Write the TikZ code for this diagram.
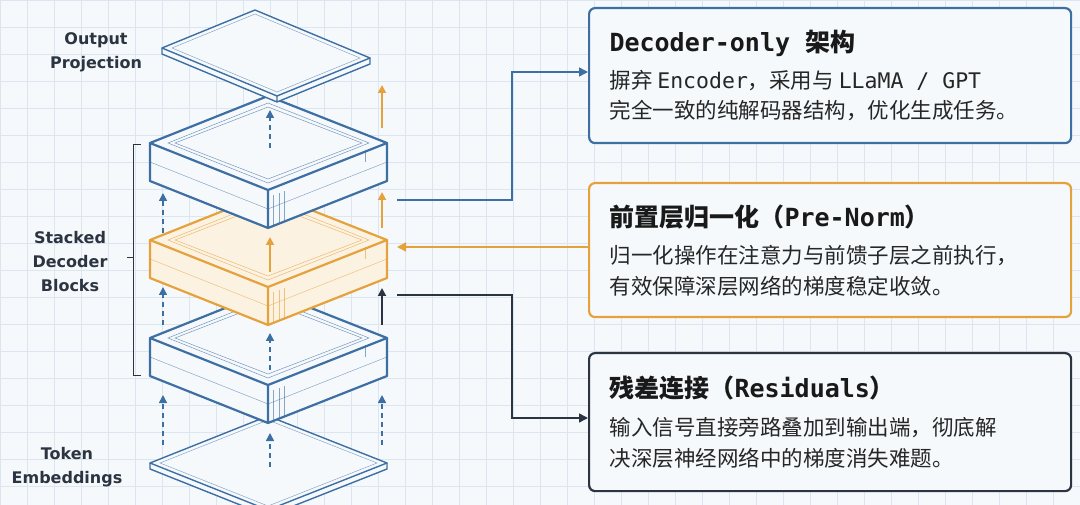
\documentclass[tikz,border=0pt]{standalone}
\usepackage{fontspec}
\setmainfont{DejaVu Sans}
\newfontfamily\cjk{Noto Sans CJK SC}
\newfontfamily\mono{DejaVu Sans Mono}
\usetikzlibrary{arrows.meta}
\definecolor{bg}{HTML}{F6F9FC}
\definecolor{gridc}{HTML}{DCE6F0}
\definecolor{bl}{HTML}{3D6FA3}
\definecolor{og}{HTML}{E5A23C}
\definecolor{ogf}{HTML}{FCF2E2}
\definecolor{dk}{HTML}{2B3440}
\tikzset{
 dash arrow/.style={bl,line width=1.6pt,dash pattern=on 5pt off 4pt,-{Triangle[length=8pt,width=8pt]}},
 solid arrow/.style={line width=1.8pt,-{Triangle[length=8pt,width=8pt]}},
 conn/.style={line width=1.6pt,-{Triangle[length=9pt,width=9pt]}},
 infobox/.style={rounded corners=6pt,line width=2.2pt,fill=bg},
 lbl/.style={font=\fontsize{16}{24}\selectfont\bfseries,align=center,text=dk},
 ttl/.style={anchor=base west,font=\fontsize{25}{28}\selectfont\bfseries,text=black!90},
 bdy/.style={anchor=base west,font=\fontsize{21.5}{24}\selectfont,text=black!85},
}
\newcommand{\myblock}[3]{% y, color, fill
 \begin{scope}[shift={(0,#1)}]
  \fill[#3] (150,0)--(268,-47)--(387,0)--(387,38)--(268,85)--(150,38)--cycle;
  \draw[#2,line width=0.5pt,opacity=0.7] (168,0)--(268,-40)--(369,0)--(268,40)--cycle;
  \draw[#2,line width=0.5pt,opacity=0.7] (175,0)--(268,-36)--(362,0)--(268,36)--cycle;
  \draw[#2,line width=0.5pt,opacity=0.6] (150,19)--(268,66)--(387,19);
  \draw[#2,line width=0.5pt,opacity=0.6] (273,52)--(273,83) (279,50)--(279,81) (284,48)--(284,79);
  \draw[#2,line width=0.5pt,opacity=0.6] (365,7)--(365,19);
  \draw[#2,line width=2.2pt,line join=round] (150,0)--(268,-47)--(387,0)--(268,47)--cycle;
  \draw[#2,line width=2.2pt,line join=round] (150,0)--(150,38)--(268,85)--(387,38)--(387,0) (268,47)--(268,85);
 \end{scope}}
\newcommand{\myplate}[1]{% y of left corner
 \begin{scope}[shift={(0,#1)}]
  \fill[bg] (150,0)--(268,-47)--(387,0)--(387,6)--(268,53)--(150,6)--cycle;
  \draw[bl,line width=0.5pt,opacity=0.6] (160,0)--(268,-43)--(377,0)--(268,43)--cycle;
  \draw[bl,line width=1.4pt,line join=round] (150,0)--(268,-47)--(387,0)--(268,47)--cycle;
  \draw[bl,line width=1.4pt,line join=round] (150,0)--(150,6)--(268,53)--(387,6)--(387,0) (268,47)--(268,53);
 \end{scope}}
\begin{document}
\begin{tikzpicture}[x=1pt,y=-1pt]
\useasboundingbox (0,0) rectangle (1080,505);
\fill[bg] (0,0) rectangle (1080,505);
\foreach \gx in {0,27,...,1080} \draw[gridc,line width=0.6pt] (\gx,0)--(\gx,505);
\foreach \gy in {0,27,...,505} \draw[gridc,line width=0.6pt] (0,\gy)--(1080,\gy);
% stack
\myplate{463}
\myblock{338}{bl}{bg}
\myblock{240}{og}{ogf}
\myblock{143}{bl}{bg}
\begin{scope}[shift={(12,-12)}]
 \fill[bg] (150,60)--(243,22)--(358,70)--(358,76)--(265,114)--(150,66)--cycle;
 \draw[bl,line width=0.5pt,opacity=0.6] (160,60)--(243,26)--(348,70)--(265,104)--cycle;
 \draw[bl,line width=1.4pt,line join=round] (150,60)--(243,22)--(358,70)--(265,108)--cycle;
 \draw[bl,line width=1.4pt,line join=round] (150,60)--(150,66)--(265,114)--(358,76)--(358,70) (265,108)--(265,114);
\end{scope}
% vertical arrows
\coordinate (a1s) at (270,148); \coordinate (a1e) at (270,110);
\coordinate (a2s) at (163,233); \coordinate (a2e) at (163,193);
\coordinate (a3s) at (163,325); \coordinate (a3e) at (163,287);
\coordinate (a4s) at (163,445); \coordinate (a4e) at (163,395);
\coordinate (a5s) at (270,370); \coordinate (a5e) at (270,333);
\coordinate (a6s) at (270,467); \coordinate (a6e) at (270,433);
\coordinate (a7s) at (382,445); \coordinate (a7e) at (382,395);
\coordinate (o1s) at (270,272); \coordinate (o1e) at (270,237);
\coordinate (o2s) at (382,128); \coordinate (o2e) at (382,85);
\coordinate (o3s) at (382,228); \coordinate (o3e) at (382,192);
\coordinate (d1s) at (382,325); \coordinate (d1e) at (382,288);
\foreach \s/\e in {a1s/a1e,a2s/a2e,a3s/a3e,a4s/a4e,a5s/a5e,a6s/a6e,a7s/a7e}
  \draw[dash arrow] (\s)--(\e);
\foreach \s/\e in {o1s/o1e,o2s/o2e,o3s/o3e}
  \draw[solid arrow,og] (\s)--(\e);
\draw[solid arrow,dk] (d1s)--(d1e);
% bracket
\draw[dk,line width=1pt] (141,145)--(133,145)--(133,375)--(141,375) (133,258)--(127,258);
% left labels
\node[lbl] (lo) at (96,52) {Output\\Projection};
\node[lbl] (ls) at (70,262) {Stacked\\Decoder\\Blocks};
\node[lbl] (lt) at (67,467) {Token\\Embeddings};
% boxes
\node[infobox,draw=bl,minimum width=482pt,minimum height=135pt,anchor=north west] (b1) at (588,7) {};
\node[infobox,draw=og,minimum width=482pt,minimum height=134pt,anchor=north west] (b2) at (588,182) {};
\node[infobox,draw=dk,minimum width=482pt,minimum height=138pt,anchor=north west] (b3) at (588,352) {};
\node[ttl] (t1) at (606,52) {\mono Decoder-only \cjk 架构};
\node[bdy] (t1a) at (606,89) {\cjk 摒弃 \mono Encoder\cjk ，采用与 \mono LLaMA / GPT};
\node[bdy] (t1b) at (606,119) {\cjk 完全一致的纯解码器结构，优化生成任务。};
\node[ttl] (t2) at (606,227) {\cjk 前置层归一化（\mono Pre-Norm\cjk ）};
\node[bdy] (t2a) at (606,264) {\cjk 归一化操作在注意力与前馈子层之前执行，};
\node[bdy] (t2b) at (606,295) {\cjk 有效保障深层网络的梯度稳定收敛。};
\node[ttl] (t3) at (606,397) {\cjk 残差连接（\mono Residuals\cjk ）};
\node[bdy] (t3a) at (606,435) {\cjk 输入信号直接旁路叠加到输出端，彻底解};
\node[bdy] (t3b) at (606,466) {\cjk 决深层神经网络中的梯度消失难题。};
% connectors
\coordinate (c1) at (397,200); \coordinate (c2) at (397,247); \coordinate (c3) at (397,295);
\draw[conn,bl] (c1) -- (512,200) |- (b1.west |- 0,72);
\draw[conn,og] (b2.west |- 0,247) -- (c2);
\draw[conn,dk] (c3) -- (512,295) |- (b3.west |- 0,418);
\end{tikzpicture}
\end{document}
